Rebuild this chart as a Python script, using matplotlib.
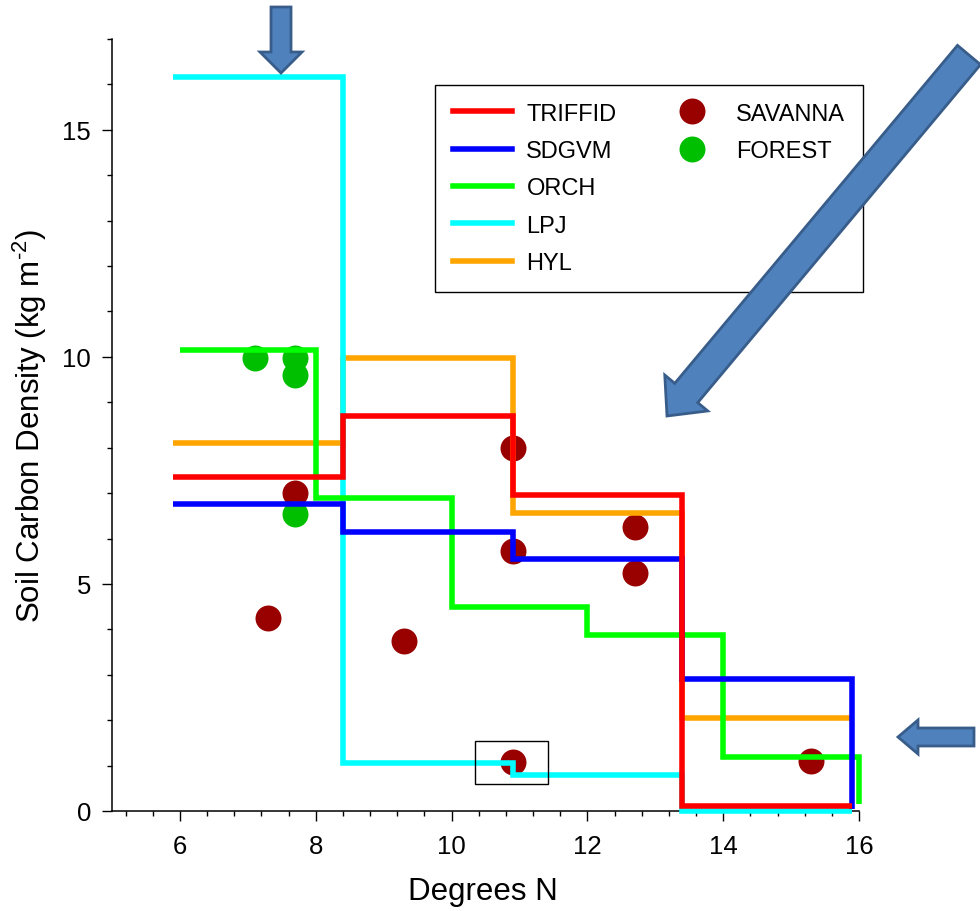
import numpy as np
import matplotlib
matplotlib.use("Agg")
import matplotlib.pyplot as plt
from matplotlib.lines import Line2D
from matplotlib.patches import FancyArrow, Rectangle
from matplotlib.ticker import MultipleLocator, AutoMinorLocator

plt.rcParams['font.family'] = ['Liberation Sans', 'DejaVu Sans']
plt.rcParams['mathtext.fontset'] = 'custom'
plt.rcParams['mathtext.rm'] = 'Liberation Sans'

# ---- data ----
model_names = ["TRIFFID", "SDGVM", "ORCH", "LPJ", "HYL"]
model_colors = ["#FF0000", "#0000FF", "#00FF00", "#00FFFF", "#FFA500"]

triffid_edges = [5.9, 8.4, 10.9, 13.4, 15.9]
triffid_vals = [7.35, 8.7, 6.95, 0.1]
triffid_end = None

sdgvm_edges = [5.9, 8.4, 10.9, 13.4, 15.9]
sdgvm_vals = [6.75, 6.15, 5.55, 2.9]
sdgvm_end = 0.05

orch_edges = [6.0, 8.0, 10.0, 12.0, 14.0, 16.0]
orch_vals = [10.15, 6.9, 4.5, 3.87, 1.2]
orch_end = 0.15

lpj_edges = [5.9, 8.4, 10.9, 13.4, 15.9]
lpj_vals = [16.17, 1.05, 0.8, 0.0]
lpj_end = None

hyl_edges = [5.9, 8.4, 10.9, 13.4, 15.9]
hyl_vals = [8.1, 9.97, 6.56, 2.05]
hyl_end = None

savanna_x = [7.3, 7.7, 9.3, 10.9, 10.9, 10.9, 12.7, 12.7, 15.3]
savanna_y = [4.25, 7.0, 3.75, 8.0, 5.72, 1.07, 6.25, 5.25, 1.1]
forest_x = [7.1, 7.7, 7.7, 7.7]
forest_y = [9.97, 9.97, 9.6, 6.55]

x_ticks = [6, 8, 10, 12, 14, 16]
y_ticks = [0, 5, 10, 15]

# ---- figure ----
W, H = 980, 912
fig = plt.figure(figsize=(W / 100, H / 100), dpi=100)
ax = fig.add_axes([112 / W, (H - 812) / H, (859 - 112) / W, (812 - 40) / H])

sav_col = "#990000"
for_col = "#00BF00"
ms = 18.7
ax.plot(savanna_x, savanna_y, 'o', color=sav_col, ms=ms, mec='none', zorder=2)
ax.plot(forest_x, forest_y, 'o', color=for_col, ms=ms, mec='none', zorder=2)

series = {
    "TRIFFID": (triffid_edges, triffid_vals, triffid_end),
    "SDGVM": (sdgvm_edges, sdgvm_vals, sdgvm_end),
    "ORCH": (orch_edges, orch_vals, orch_end),
    "LPJ": (lpj_edges, lpj_vals, lpj_end),
    "HYL": (hyl_edges, hyl_vals, hyl_end),
}
draw_order = ["HYL", "LPJ", "ORCH", "SDGVM", "TRIFFID"]
lw = 4.0
for z, name in enumerate(draw_order):
    edges, vals, end = series[name]
    xs = list(edges)
    ys = list(vals) + [vals[-1]]
    if end is not None:
        xs = xs + [edges[-1]]
        ys = ys + [end]
    col = model_colors[model_names.index(name)]
    ax.plot(xs, ys, drawstyle='steps-post', color=col, lw=lw,
            solid_joinstyle='miter', solid_capstyle='butt',
            clip_on=False, zorder=3 + z)

# highlight box
ax.add_patch(Rectangle((10.34, 0.59), 1.08, 0.95, fill=False, ec='black',
                       lw=1.0, zorder=10))

ax.set_xlim(5, 16)
ax.set_ylim(0, 17)
ax.set_xticks(x_ticks)
ax.set_yticks(y_ticks)
ax.xaxis.set_minor_locator(AutoMinorLocator(5))
ax.yaxis.set_minor_locator(AutoMinorLocator(5))
for s in ['top', 'right']:
    ax.spines[s].set_visible(False)
for s in ['left', 'bottom']:
    ax.spines[s].set_linewidth(1.1)
ax.tick_params(axis='both', which='major', direction='out', length=7,
               width=1.0, labelsize=18.5)
ax.tick_params(axis='both', which='minor', direction='out', length=3.5,
               width=1.0)
ax.tick_params(axis='x', which='major', pad=9.5)
ax.tick_params(axis='y', which='major', pad=8)

ax.set_xlabel("Degrees N", fontsize=22.5)
ax.set_ylabel("Soil Carbon Density (kg m$^{\\mathregular{\u2010}2}$)", fontsize=22.5)
ax.xaxis.set_label_coords(0.497, -0.084)
ax.yaxis.set_label_coords(-0.085, 0.5)

# legend
handles = [Line2D([], [], color=c, lw=lw) for c in model_colors]
labels = list(model_names)
blank = Line2D([], [], color='none')
handles += [Line2D([], [], ls='none', marker='o', ms=ms, color=sav_col, mec='none'),
            Line2D([], [], ls='none', marker='o', ms=ms, color=for_col, mec='none'),
            blank, blank, blank]
labels += ["SAVANNA", "FOREST", "", "", ""]
leg = ax.legend(handles, labels, ncol=2, loc='upper left',
                bbox_to_anchor=((435 - 112) / 747, (812 - 86) / 772),
                borderaxespad=0, fontsize=17, handlelength=2.5,
                handletextpad=0.62, columnspacing=1.95, labelspacing=0.65,
                borderpad=0.75, fancybox=False, framealpha=1,
                edgecolor='black')
leg.get_frame().set_linewidth(1.0)
leg.set_zorder(20)

# overlay for decorative arrows (pixel coordinates)
ov = fig.add_axes([0, 0, 1, 1], zorder=30)
ov.set_xlim(0, W)
ov.set_ylim(H, 0)
ov.axis('off')
ov.patch.set_alpha(0)
afc, aec = "#4F81BD", "#385D8A"
ov.add_patch(FancyArrow(281, 8, 0, 66, width=20, head_width=42, head_length=21,
                        length_includes_head=True, fc=afc, ec=aec, lw=2))
ov.add_patch(FancyArrow(969, 56, 667 - 969, 417 - 56, width=30, head_width=56,
                        head_length=30, length_includes_head=True,
                        fc=afc, ec=aec, lw=2))
ov.add_patch(FancyArrow(974, 738, 898 - 974, 0, width=18, head_width=34,
                        head_length=20, length_includes_head=True,
                        fc=afc, ec=aec, lw=2))

fig.savefig("out.png", dpi=100)
